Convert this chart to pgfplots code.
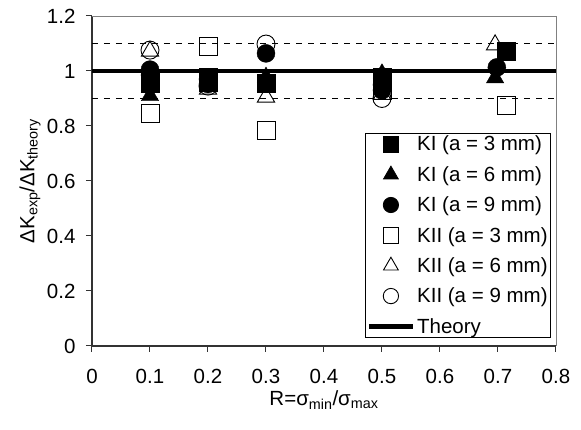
\documentclass[border=0pt]{standalone}
\usepackage{fontspec}
\setmainfont{Liberation Sans}
\usepackage{pgfplots}
\pgfplotsset{compat=1.18}

\begin{document}
\begin{tikzpicture}
\path[use as bounding box] (-92pt,-84pt) rectangle (489pt,346pt);
\begin{axis}[
  width=464pt, height=330pt,
  scale only axis,
  xmin=0, xmax=0.8, ymin=0, ymax=1.2,
  xtick={0,0.1,...,0.8}, ytick={0,0.2,...,1.2},
  axis lines=left,
  axis line style={-, line width=1.2pt, black!80},
  tick align=outside,
  major tick length=6pt,
  tick style={black!80, line width=1pt},
  tick label style={font=\fontsize{20.5}{24}\selectfont},
  xticklabel style={yshift=-14pt},
  yticklabel style={xshift=-7pt},
  /pgf/number format/assume math mode=true,
  /pgf/number format/fixed,
  /pgf/number format/precision=1,
  every axis x label/.style={at={(axis description cs:0.5,0)}, anchor=center, yshift=-54pt,
    font=\fontsize{20.5}{24}\selectfont},
  every axis y label/.style={at={(axis description cs:0,0.5)}, rotate=90, anchor=center, yshift=62pt,
    font=\fontsize{20.5}{24}\selectfont},
  xlabel={R=σ\textsubscript{min}/σ\textsubscript{max}},
  ylabel={ΔK\textsubscript{exp}/ΔK\textsubscript{theory}},
  clip=false,
  legend style={at={(1,0)}, anchor=south east, xshift=-5pt, yshift=8pt,
    draw=black, line width=0.8pt, inner sep=1pt, row sep=10pt,
    font=\fontsize{20.5}{24}\selectfont, cells={anchor=west}},
  legend cell align=left,
  legend image code/.code={\draw[mark repeat=2,mark phase=2,#1,/tikz/every mark/.append style={scale=0.85}] plot coordinates {(0pt,0pt) (22pt,0pt) (44pt,0pt)};},
  after end axis/.code={\draw[gray, line width=0.8pt] (rel axis cs:0,1) -- (rel axis cs:1,1) -- (rel axis cs:1,0);},
]

% tolerance bands
\addplot[black, line width=1.6pt, dash pattern=on 6pt off 6pt, forget plot] coordinates {(0,1.1) (0.8,1.1)};
\addplot[black, line width=1.6pt, dash pattern=on 6pt off 6pt, forget plot] coordinates {(0,0.9) (0.8,0.9)};

% KI a=3
\addplot[only marks, mark=square*, mark size=9pt, black] coordinates {
  (0.1,0.955) (0.1,0.975) (0.2,0.978) (0.2,0.96) (0.3,0.955) (0.5,0.978) (0.5,0.96) (0.715,1.073)
};
\addlegendentry{KI (a = 3 mm)}

% KI a=6
\addplot[only marks, mark=triangle*, mark size=10pt, black] coordinates {
  (0.1,0.91) (0.1,0.94) (0.2,0.96) (0.3,0.978) (0.5,0.99) (0.695,0.975)
};
\addlegendentry{KI (a = 6 mm)}

% KI a=9
\addplot[only marks, mark=*, mark size=9pt, black] coordinates {
  (0.1,1.005) (0.1,0.985) (0.2,0.953) (0.2,0.97) (0.3,1.064) (0.5,0.93) (0.5,0.95) (0.698,1.013)
};
\addlegendentry{KI (a = 9 mm)}

% KII a=3
\addplot[only marks, mark=square, mark size=9pt, black, line width=0.9pt] coordinates {
  (0.1,0.847) (0.2,1.089) (0.3,0.785) (0.5,0.93) (0.715,0.873)
};
\addlegendentry{KII (a = 3 mm)}

% KII a=6
\addplot[only marks, mark=triangle, mark size=10pt, black, line width=0.9pt] coordinates {
  (0.1,1.072) (0.2,0.934) (0.3,0.905) (0.5,0.915) (0.695,1.095)
};
\addlegendentry{KII (a = 6 mm)}

% KII a=9
\addplot[only marks, mark=o, mark size=9pt, black, line width=0.9pt] coordinates {
  (0.1,1.076) (0.2,0.945) (0.3,1.098) (0.5,0.90)
};
\addlegendentry{KII (a = 9 mm)}

% theory
\addplot[black, line width=4.5pt] coordinates {(0,1) (0.8,1)};
\addlegendentry{Theory}

\end{axis}
\end{tikzpicture}
\end{document}
